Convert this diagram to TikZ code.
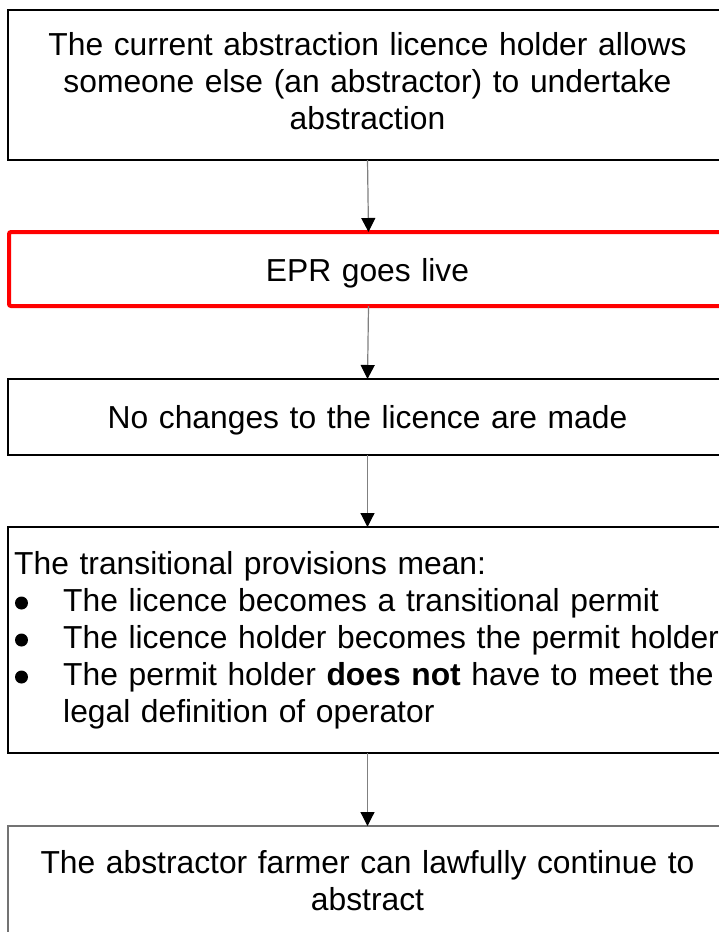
\documentclass[tikz,border=0pt]{standalone}
\usepackage{fontspec}
\setmainfont{Liberation Sans}
\usetikzlibrary{arrows.meta}
\tikzset{
  box/.style={draw=black, line width=1.2bp, minimum width=719bp, inner sep=0pt, outer sep=0pt, anchor=north west},
  redbox/.style={box, draw=red, line width=4bp, rounded corners=2bp},
  txt/.style={font=\fontsize{31.8bp}{37bp}\selectfont, inner sep=0pt, anchor=north, text width=712bp, align=center},
  ltxt/.style={font=\fontsize{31.8bp}{37bp}\selectfont, inner sep=0pt, anchor=north west, text width=705bp, align=left},
  flow/.style={draw=black!50, line width=1.2bp, -{Triangle[width=14bp,length=14bp,fill=black,color=black]}},
  bulletdot/.style={fill=black}
}
\newcommand{\firststrut}{\rule{0pt}{25bp}}
\newcommand{\bulspace}{\hspace*{49bp}}
\begin{document}
\begin{tikzpicture}[x=1bp,y=-1bp]
\useasboundingbox (0,0) rectangle (719,932);
\fill[white] (0,0) rectangle (719,932);
\clip (0,0) rectangle (719,932);

\node[box, minimum height=150bp] (b1) at (8,10) {};
\node[redbox, minimum height=74bp] (b2) at (9,232) {};
\node[box, minimum height=76bp] (b3) at (8,379) {};
\node[box, minimum height=226bp] (b4) at (8,527) {};
\node[box, draw=black!55, minimum height=120bp] (b5) at (8,826) {};

\node[txt] (t1) at (367.5,30) {\firststrut The current abstraction licence holder allows\\someone else (an abstractor) to undertake\\abstraction};
\node[txt] (t2) at (367.5,256) {\firststrut EPR goes live};
\node[txt] (t3) at (367.5,403) {\firststrut No changes to the licence are made};
\node[ltxt] (t4) at (14,549) {\firststrut The transitional provisions mean:\\
\bulspace The licence becomes a transitional permit\\
\bulspace The licence holder becomes the permit holder\\
\bulspace The permit holder \textbf{does not} have to meet the\\
\bulspace legal definition of operator};
\node[txt] (t5) at (367.5,848) {\firststrut The abstractor farmer can lawfully continue to\\abstract};

\fill[bulletdot] (21.5,603) circle[radius=6.5bp];
\fill[bulletdot] (21.5,640) circle[radius=6.5bp];
\fill[bulletdot] (21.5,677) circle[radius=6.5bp];

\draw[flow] (b1.south) -- (b2.north);
\draw[flow] (b2.south) -- (b3.north);
\draw[flow] (b3.south) -- (b4.north);
\draw[flow] (b4.south) -- (b5.north);
\end{tikzpicture}
\end{document}
